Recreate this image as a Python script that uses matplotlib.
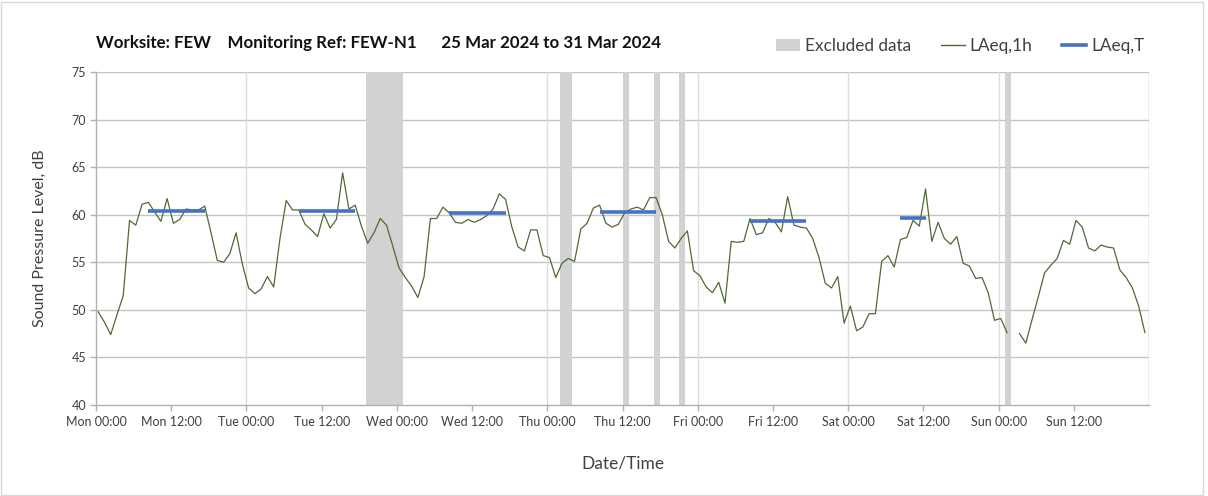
import numpy as np
import matplotlib
matplotlib.use("Agg")
import matplotlib.pyplot as plt
from matplotlib.patches import Patch, Rectangle
from matplotlib.lines import Line2D

plt.rcParams['font.family'] = ['Lato', 'DejaVu Sans']

# ---------------- data ----------------
# hourly LAeq,1h values, Mon 25 Mar 2024 00:00 .. Sun 31 Mar 2024 23:00 (hour index 0..167)
laeq_1h = [
    49.8, 48.7, 47.4, 49.5, 51.5, 59.4, 58.9, 61.1, 61.3, 60.3, 59.3, 61.7,
    59.1, 59.5, 60.6, 60.5, 60.5, 60.9, 58.1, 55.2, 55.0, 55.9, 58.1, 54.8,
    52.3, 51.7, 52.2, 53.5, 52.4, 57.5, 61.5, 60.5, 60.5, 59.0, 58.4, 57.7,
    60.1, 58.6, 59.5, 64.4, 60.6, 61.0, 58.8, 57.0, 58.1, 59.6, 58.9, 56.7,
    54.4, 53.4, 52.5, 51.3, 53.5, 59.6, 59.6, 60.8, 60.2, 59.2, 59.1, 59.5,
    59.2, 59.5, 59.9, 60.6, 62.2, 61.6, 58.7, 56.6, 56.2, 58.4, 58.4, 55.7,
    55.5, 53.4, 54.9, 55.4, 55.1, 58.5, 59.1, 60.7, 61.0, 59.1, 58.7, 59.0,
    60.2, 60.6, 60.8, 60.5, 61.8, 61.8, 60.0, 57.2, 56.5, 57.5, 58.3, 54.1,
    53.6, 52.4, 51.8, 52.9, 50.7, 57.2, 57.1, 57.2, 59.6, 57.9, 58.1, 59.6,
    59.2, 58.2, 61.9, 58.9, 58.7, 58.6, 57.5, 55.5, 52.8, 52.3, 53.5, 48.6,
    50.4, 47.8, 48.2, 49.6, 49.6, 55.1, 55.7, 54.5, 57.4, 57.6, 59.4, 58.8,
    62.7, 57.2, 59.2, 57.5, 56.9, 57.7, 54.9, 54.6, 53.3, 53.4, 51.8, 48.9,
    49.1, 47.6, np.nan, 47.5, 46.5, 49.0, 51.4, 53.9, 54.7, 55.4, 57.3, 56.9,
    59.4, 58.7, 56.5, 56.2, 56.8, 56.6, 56.5, 54.2, 53.4, 52.3, 50.4, 47.6,
]
sample_offset_h = 0.35          # timestamps lie ~20 min after each hour

# LAeq,T daytime periods (first hour, last hour, level)
laeqT_start = [8, 32, 56, 80, 104, 128]
laeqT_end = [17, 41, 65, 89, 113, 132]
laeqT_value = [60.4, 60.4, 60.2, 60.3, 59.3, 59.7]

# excluded data periods (hours from Mon 00:00)
excl_start = [43, 74, 84, 89, 93, 145]
excl_end = [49, 76, 85, 90, 94, 146]

tick_hours = list(range(0, 168, 12))
tick_labels = ["Mon 00:00", "Mon 12:00", "Tue 00:00", "Tue 12:00", "Wed 00:00",
               "Wed 12:00", "Thu 00:00", "Thu 12:00", "Fri 00:00", "Fri 12:00",
               "Sat 00:00", "Sat 12:00", "Sun 00:00", "Sun 12:00"]

title = "Worksite: FEW    Monitoring Ref: FEW-N1      25 Mar 2024 to 31 Mar 2024"

# ---------------- figure ----------------
W, H = 1208, 496
fig = plt.figure(figsize=(W / 100, H / 100), dpi=100)
ax = fig.add_axes([96 / W, 1 - 405 / H, (1149 - 96) / W, (405 - 72) / H])

green = '#4f6a35'
blue = '#4472c4'
grey_band = '#d2d2d2'

for s, e in zip(excl_start, excl_end):
    ax.axvspan(s, e, color=grey_band, lw=0, zorder=1)

hours = np.arange(len(laeq_1h)) + sample_offset_h
ax.plot(hours, laeq_1h, color=green, lw=0.9, zorder=3)

for s, e, v in zip(laeqT_start, laeqT_end, laeqT_value):
    ax.plot([s + sample_offset_h, e + sample_offset_h], [v, v], color=blue,
            lw=2.6, solid_capstyle='butt', zorder=4)

ax.set_xlim(0, 168)
ax.set_ylim(40, 75)
ax.set_yticks(np.arange(40, 76, 5))
ax.set_xticks(tick_hours)
ax.set_xticklabels(tick_labels)

# gridlines
for y in range(45, 76, 5):
    ax.axhline(y, color='#c4c4c4', lw=1.0, zorder=0.5)
for x in range(24, 169, 24):
    ax.axvline(x, color='#dcdcdc', lw=1.0, zorder=0.5)
ax.axvline(168, color='#c4c4c4', lw=1.0, zorder=0.5)

for side in ['top', 'right']:
    ax.spines[side].set_visible(False)
for side in ['left', 'bottom']:
    ax.spines[side].set_color('#b0b0b0')
    ax.spines[side].set_linewidth(1.0)

ax.tick_params(axis='both', colors='#b0b0b0', labelcolor='#404040',
               labelsize=9, length=4, width=1.0, direction='out')
ax.tick_params(axis='x', pad=4)
ax.tick_params(axis='y', pad=3)

ax.set_ylabel("Sound Pressure Level, dB", fontsize=11.5, color='#404040', labelpad=18)
ax.set_xlabel("Date/Time", fontsize=12.5, color='#404040', labelpad=20)

fig.text(96 / W, 1 - 43 / H, title, fontsize=12.2, fontweight='bold',
         color='#111111', ha='left', va='center')

handles = [Patch(facecolor=grey_band, edgecolor='none'),
           Line2D([], [], color=green, lw=1.0),
           Line2D([], [], color=blue, lw=2.6)]
fig.legend(handles, ["Excluded data", "LAeq,1h", "LAeq,T"],
           loc='center right', bbox_to_anchor=(1160 / W, 1 - 46 / H), ncol=3,
           frameon=False, fontsize=12.4, handlelength=1.4, handletextpad=0.3,
           columnspacing=1.7, labelcolor='#404040')

fig.patches.append(Rectangle((1 / W, 1 / H), (W - 6) / W, (H - 3) / H,
                             transform=fig.transFigure, fill=False,
                             edgecolor='#d9d9d9', lw=1.0))

fig.savefig('out.png', dpi=100)
